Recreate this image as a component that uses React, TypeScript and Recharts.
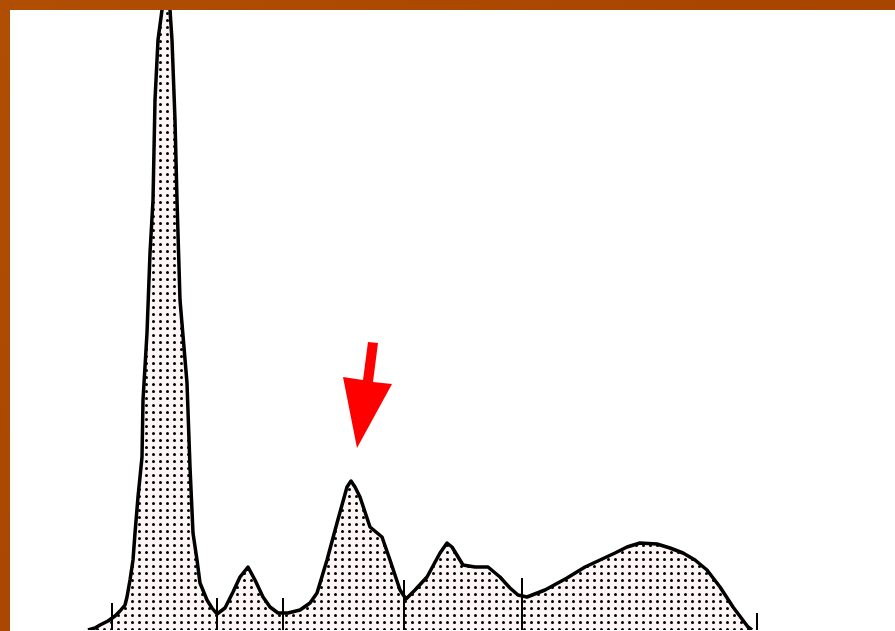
import React from 'react';
import { AreaChart, Area, XAxis, YAxis, ReferenceLine, ReferenceDot } from 'recharts';

// channel positions and counts of the histogram outline
const channels = [78, 85, 90, 98, 105, 110, 115, 117, 120, 123, 125, 128, 132, 133, 137, 140, 143, 145, 148, 152, 155, 158, 160, 162, 165, 167, 170, 177, 180, 183, 187, 190, 197, 202, 207, 215, 223, 230, 238, 245, 253, 260, 268, 278, 290, 300, 307, 317, 327, 337, 341, 345, 350, 360, 372, 380, 390, 396, 405, 417, 430, 437, 442, 453, 465, 478, 490, 500, 508, 517, 535, 557, 575, 590, 605, 617, 630, 647, 660, 673, 685, 697, 710, 723, 738, 742];
const counts = [0, 2, 5, 9, 14, 19, 25, 33, 50, 70, 97, 133, 173, 230, 297, 377, 430, 530, 590, 620, 680, 680, 620, 590, 510, 430, 330, 247, 163, 97, 70, 47, 30, 22, 16, 22, 38, 53, 63, 50, 33, 23, 17, 17, 20, 27, 37, 70, 107, 143, 149, 143, 133, 103, 93, 70, 40, 31, 40, 53, 77, 87, 83, 65, 63, 63, 53, 42, 35, 33, 40, 52, 63, 70, 77, 83, 87, 86, 82, 77, 70, 60, 43, 23, 3, 0];

// gate marker positions and heights
const markerChannels = [102, 207, 273, 394, 512, 747];
const markerHeights = [27, 32, 32, 50, 52, 17];

// arrow annotation tip
const arrowTip = { x: 347, y: 182 };

const data = channels.map((c, i) => ({ ch: c, n: counts[i] }));

const Arrow = (props: any) => {
  const { cx, cy } = props;
  const pts = [
    [0, 0], [-14, -71], [6, -68], [11, -106], [21, -105], [16, -66], [35, -64],
  ].map(([dx, dy]) => `${cx + dx},${cy + dy}`).join(' ');
  return <polygon points={pts} fill="#ff0000" />;
};

export default function App() {
  return (
    <div style={{ position: 'absolute', left: 0, top: 0, width: 895, height: 631, background: 'linear-gradient(135deg, #b04e04 0%, #a84600 50%, #a34400 100%)', overflow: 'hidden' }}>
      <div style={{ position: 'absolute', left: 10, top: 10, width: 885, height: 621, background: '#ffffff' }}>
        <AreaChart width={885} height={621} data={data} margin={{ top: 0, right: 0, bottom: 1, left: 0 }}>
          <defs>
            <pattern id="dots" x="0" y="0" width="7" height="7" patternUnits="userSpaceOnUse">
              <rect x="0" y="0" width="7" height="7" fill="#fdf5f5" />
              <circle cx="3.5" cy="3.5" r="1.5" fill="#000" />
            </pattern>
          </defs>
          <XAxis dataKey="ch" type="number" domain={[0, 885]} allowDataOverflow tick={false} tickLine={false} height={0} axisLine={{ stroke: '#000', strokeWidth: 2 }} />
          <YAxis hide domain={[0, 620]} allowDataOverflow />
          <Area type="linear" dataKey="n" stroke="#000" strokeWidth={3.5} strokeLinejoin="round" fill="url(#dots)" fillOpacity={1} isAnimationActive={false} />
          {markerChannels.map((c, i) => (
            <ReferenceLine key={c} segment={[{ x: c, y: 0 }, { x: c, y: markerHeights[i] }]} stroke="#000" strokeWidth={2} />
          ))}
          <ReferenceDot x={arrowTip.x} y={arrowTip.y} r={0} shape={Arrow} ifOverflow="visible" />
        </AreaChart>
      </div>
    </div>
  );
}
